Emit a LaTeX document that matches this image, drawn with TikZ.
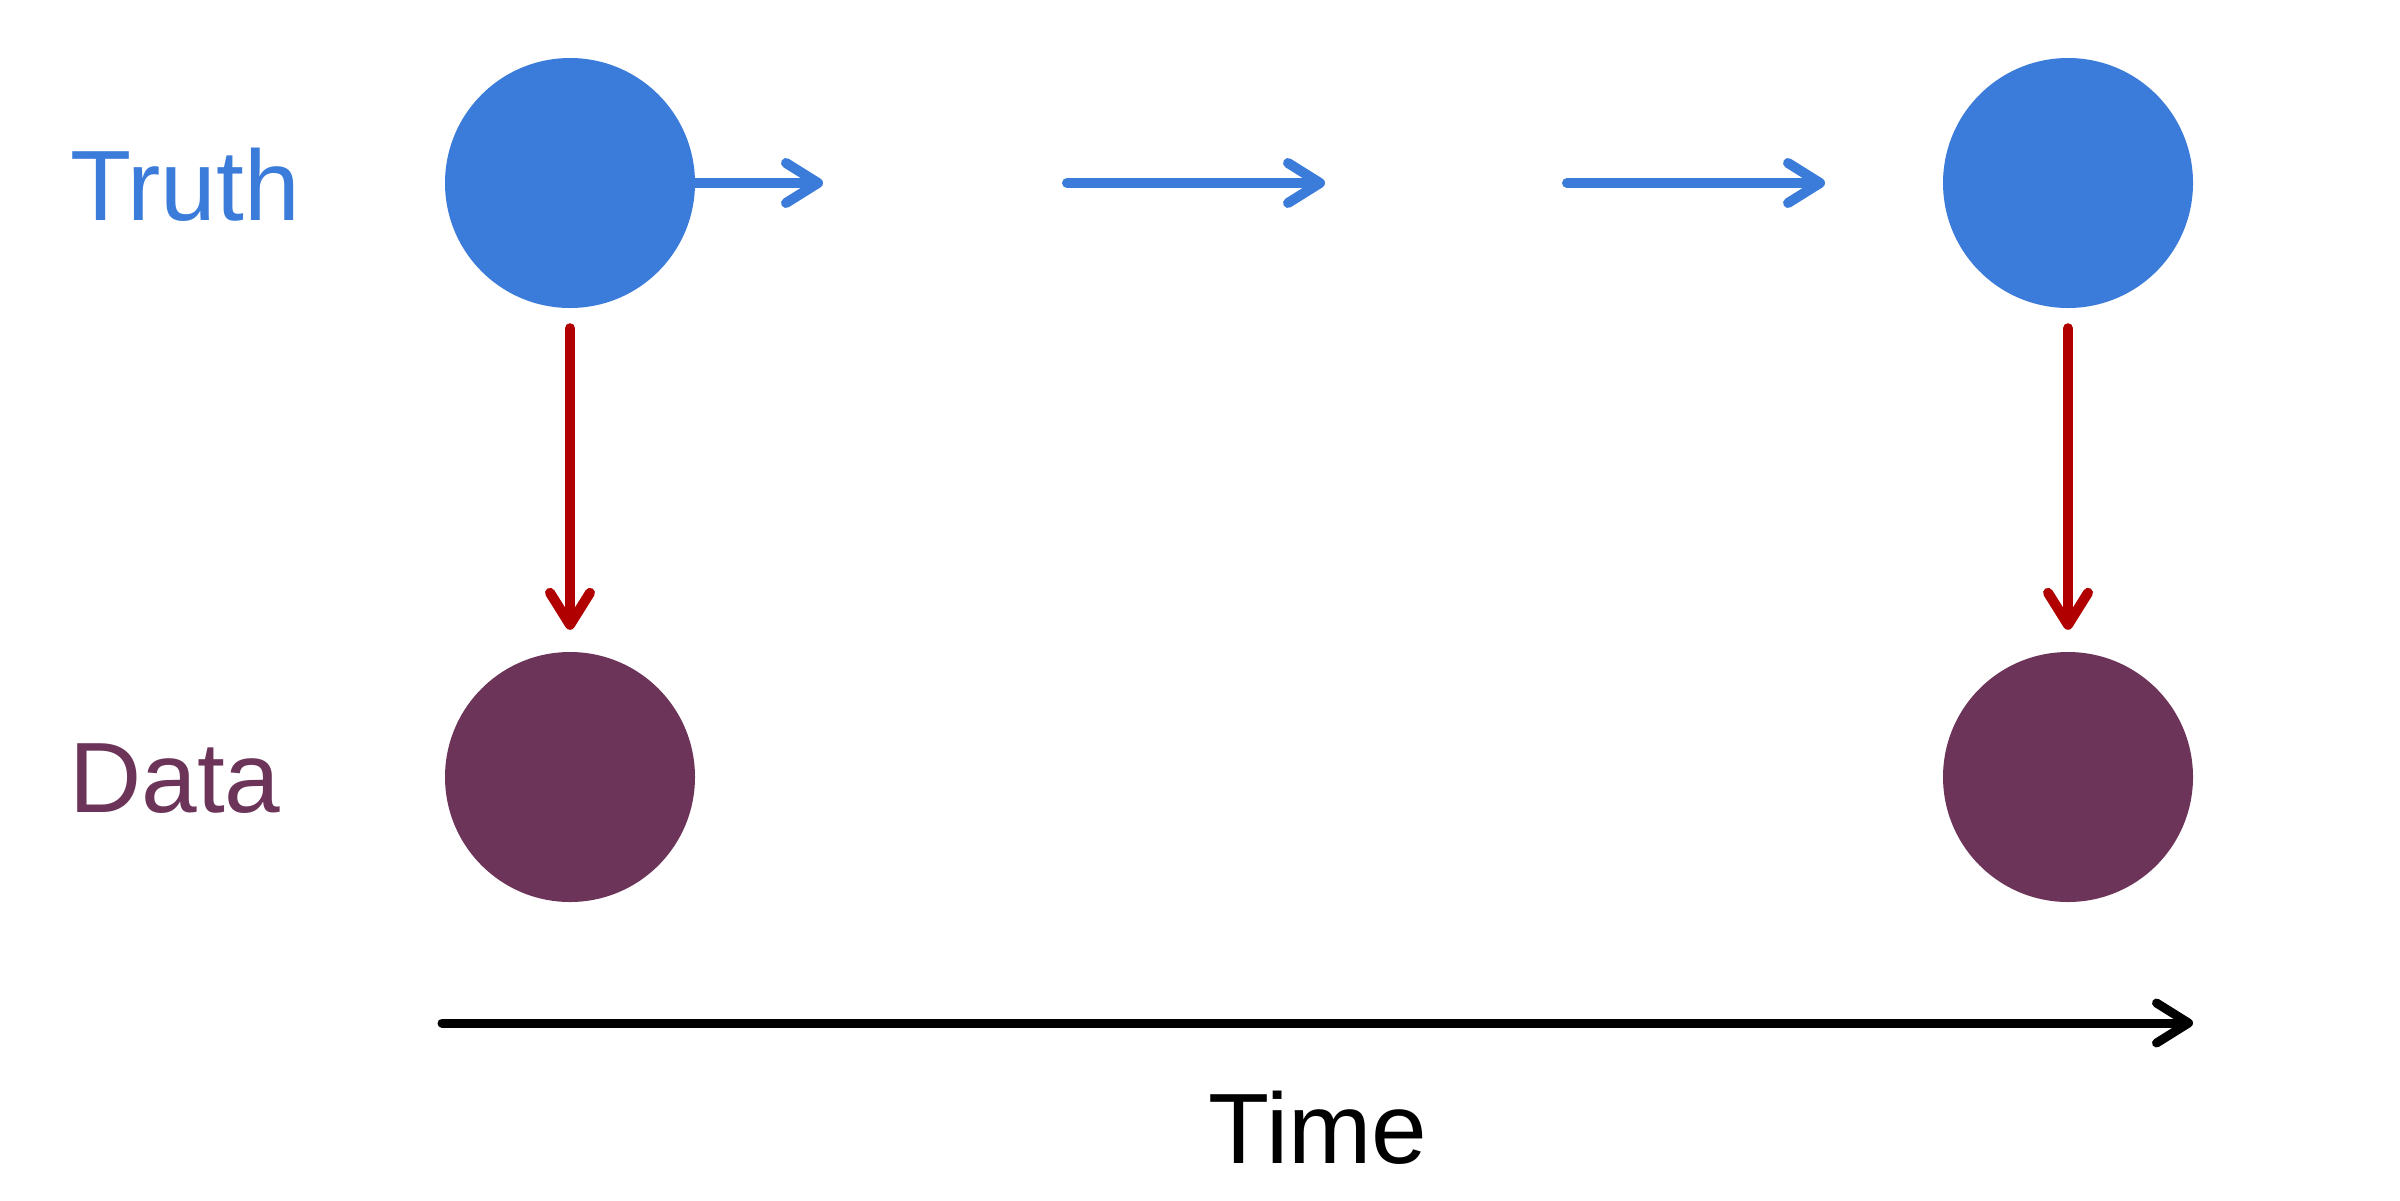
\documentclass[tikz,border=0pt]{standalone}
\usepackage{fontspec}
\setmainfont{Liberation Sans}
\usetikzlibrary{arrows.meta}
\definecolor{tblue}{RGB}{59,123,217}
\definecolor{dpurple}{RGB}{109,52,89}
\definecolor{dred}{RGB}{176,0,0}
\begin{document}
\begin{tikzpicture}[x=1pt,y=-1pt,
  truthdot/.style={circle,fill=tblue,minimum size=250pt,inner sep=0pt},
  datadot/.style={circle,fill=dpurple,minimum size=250pt,inner sep=0pt},
  chev/.style={-{Straight Barb[length=32pt,width=40pt,line cap=round,line join=round]},line cap=round,line width=10pt},
  bluearr/.style={chev,draw=tblue},
  redarr/.style={chev,draw=dred},
  timearr/.style={chev,draw=black,line width=9pt},
  lbl/.style={inner sep=0pt,font=\fontsize{100pt}{120pt}\selectfont}]
\useasboundingbox (0,0) rectangle (2400,1200);
\node[truthdot] (t1) at (570,183) {};
\node[truthdot] (t2) at (2068,183) {};
\node[datadot] (d1) at (570,777) {};
\node[datadot] (d2) at (2068,777) {};
\node[lbl,text=tblue,anchor=base west] (truth) at (70,220) {Truth};
\node[lbl,text=dpurple,anchor=base west] (data) at (69,812) {Data};
\node[lbl,text=black,anchor=base] (time) at (1318,1163) {Time};
\coordinate (a1e) at (823,183);
\coordinate (a2s) at (1067,183);
\coordinate (a2e) at (1325,183);
\coordinate (a3s) at (1567,183);
\coordinate (a3e) at (1825,183);
\coordinate (ts) at (442,1023);
\coordinate (te) at (2193,1023);
\draw[bluearr] (t1.east) -- (a1e);
\draw[bluearr] (a2s) -- (a2e);
\draw[bluearr] (a3s) -- (a3e);
\draw[redarr] ([yshift=-20pt]t1.south) -- ([yshift=22pt]d1.north);
\draw[redarr] ([yshift=-20pt]t2.south) -- ([yshift=22pt]d2.north);
\draw[timearr] (ts) -- (te);
\end{tikzpicture}
\end{document}
